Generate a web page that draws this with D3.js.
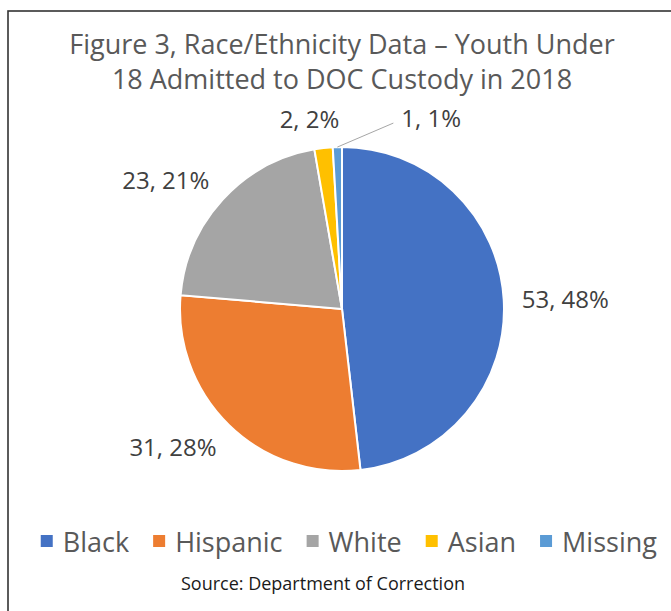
<!DOCTYPE html>
<html>
<head>
<meta charset="utf-8">
<script src="https://cdn.jsdelivr.net/npm/d3@7"></script>
<style>
  body { margin: 0; background: #fff; }
  svg { display: block; font-family: "Open Sans", sans-serif; }
</style>
</head>
<body>
<svg id="chart" width="671" height="611"></svg>
<script>
// data
const categories = ["Black", "Hispanic", "White", "Asian", "Missing"];
const counts = [53, 31, 23, 2, 1];
const percents = [48, 28, 21, 2, 1];
const colors = ["#4472C4", "#ED7D31", "#A5A5A5", "#FFC000", "#5B9BD5"];
const titleLines = ["Figure 3, Race/Ethnicity Data \u2013 Youth Under", "18 Admitted to DOC Custody in 2018"];
const sourceText = "Source: Department of Correction";

const width = 671, height = 611;
const cx = 342, cy = 309, radius = 162;
const labelPad = 18;

const svg = d3.select("#chart");

// frame (cropped at right/bottom in the original)
svg.append("rect")
    .attr("x", 8).attr("y", 11)
    .attr("width", 700).attr("height", 700)
    .attr("fill", "none")
    .attr("stroke", "#333")
    .attr("stroke-width", 1.6);

svg.append("text")
    .attr("x", cx).attr("y", 54)
    .attr("text-anchor", "middle")
    .attr("fill", "#595959")
    .attr("font-size", 27)
    .selectAll("tspan")
    .data(titleLines)
    .join("tspan")
    .attr("x", cx)
    .attr("dy", (d, i) => i ? 35 : 0)
    .text(d => d);

const slices = categories.map((c, i) => ({cat: c, n: counts[i], pct: percents[i], color: colors[i]}));

const pie = d3.pie().sort(null).value(d => d.n);
const arcs = pie(slices);
const arc = d3.arc().innerRadius(0).outerRadius(radius);

const g = svg.append("g").attr("transform", `translate(${cx},${cy})`);

g.selectAll("path")
  .data(arcs)
  .join("path")
    .attr("d", arc)
    .attr("fill", d => d.data.color)
    .attr("stroke", "#fff")
    .attr("stroke-width", 2);

// labels outside end; tiny slices at the top get pushed apart
const labelG = g.append("g")
    .attr("fill", "#404040")
    .attr("font-size", 24);

let prevRight = -Infinity;
arcs.forEach(d => {
  const a = (d.startAngle + d.endAngle) / 2;
  const s = Math.sin(a), c = Math.cos(a);
  const r = radius + labelPad;
  let x = s * r, y = -c * r - c * 12;
  const t = labelG.append("text")
      .attr("dominant-baseline", "central")
      .text(`${d.data.n}, ${d.data.pct}%`);
  const w = t.node().getComputedTextLength();
  const nearTop = Math.abs(s) < 0.15;
  let anchor = nearTop ? "middle" : (s > 0 ? "start" : "end");
  let left = anchor === "start" ? x : anchor === "end" ? x - w : x - w / 2;
  if (nearTop) left -= 12;
  let leader = false;
  if (nearTop && left < prevRight + 40) {
    left = prevRight + 62;
    leader = true;
  }
  if (nearTop) { anchor = "start"; x = left; }
  t.attr("x", x).attr("y", y).attr("text-anchor", anchor);
  if (leader) {
    labelG.append("line")
        .attr("x1", s * radius).attr("y1", -c * radius)
        .attr("x2", left - 8).attr("y2", y + 6)
        .attr("stroke", "#a6a6a6")
        .attr("stroke-width", 1);
  }
  if (nearTop) prevRight = left + w;
});

// legend
const legend = svg.append("g")
    .attr("font-size", 27)
    .attr("fill", "#595959");
const items = legend.selectAll("g")
  .data(slices)
  .join("g");
items.append("rect")
    .attr("width", 12).attr("height", 12)
    .attr("y", -6)
    .attr("fill", d => d.color);
items.append("text")
    .attr("x", 22)
    .attr("dominant-baseline", "central")
    .text(d => d.cat);
const gap = 24;
const widths = items.nodes().map(n => n.getBBox().width);
const total = d3.sum(widths) + gap * (widths.length - 1);
let start = 349 - total / 2;
items.attr("transform", (d, i) => {
  const tx = start;
  start += widths[i] + gap;
  return `translate(${tx},541)`;
});

svg.append("text")
    .attr("x", 323).attr("y", 583)
    .attr("text-anchor", "middle")
    .attr("dominant-baseline", "central")
    .attr("font-size", 18)
    .attr("fill", "#1a1a1a")
    .text(sourceText);
</script>
</body>
</html>
